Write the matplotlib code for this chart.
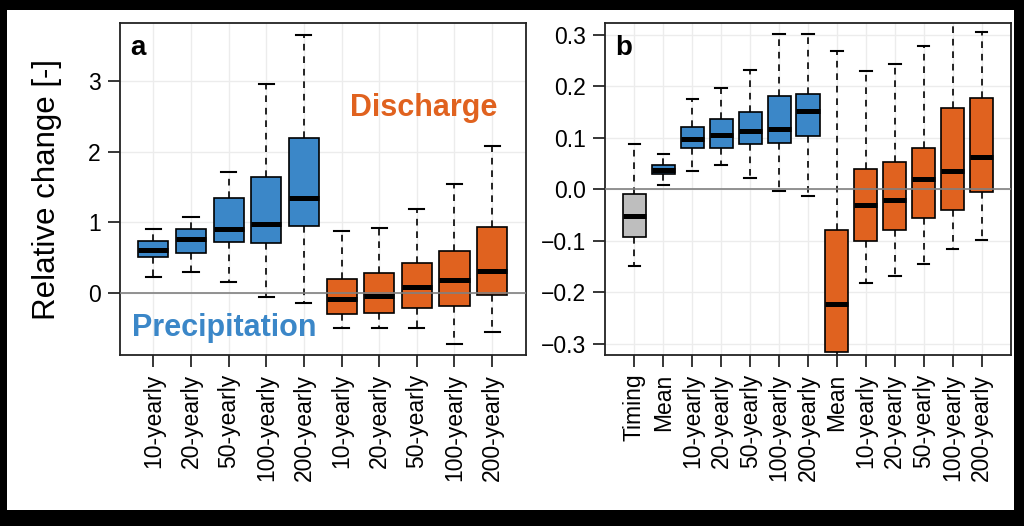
import matplotlib
matplotlib.use("Agg")
import matplotlib.pyplot as plt
from matplotlib.patches import Rectangle

plt.rcParams['font.family'] = ['Liberation Sans', 'DejaVu Sans']

# ---------------- data ----------------
labels_a = ["10-yearly", "20-yearly", "50-yearly", "100-yearly", "200-yearly",
            "10-yearly", "20-yearly", "50-yearly", "100-yearly", "200-yearly"]
whislo_a = [0.22, 0.30, 0.15, -0.06, -0.14, -0.50, -0.50, -0.50, -0.73, -0.56]
q1_a     = [0.51, 0.57, 0.72, 0.71, 0.95, -0.30, -0.28, -0.21, -0.19, -0.03]
med_a    = [0.61, 0.76, 0.90, 0.98, 1.35, -0.09, -0.05, 0.08, 0.18, 0.31]
q3_a     = [0.73, 0.91, 1.34, 1.64, 2.20, 0.20, 0.28, 0.43, 0.59, 0.93]
whishi_a = [0.91, 1.07, 1.71, 2.96, 3.66, 0.87, 0.92, 1.19, 1.54, 2.08]
groups_a = ["P"] * 5 + ["Q"] * 5

labels_b = ["Timing", "Mean", "10-yearly", "20-yearly", "50-yearly", "100-yearly",
            "200-yearly", "Mean", "10-yearly", "20-yearly", "50-yearly",
            "100-yearly", "200-yearly"]
whislo_b = [-0.149, 0.009, 0.036, 0.047, 0.021, -0.004, -0.013, -0.33, -0.182,
            -0.168, -0.146, -0.117, -0.099]
q1_b     = [-0.093, 0.029, 0.079, 0.079, 0.088, 0.089, 0.103, -0.316, -0.100,
            -0.079, -0.056, -0.040, -0.006]
med_b    = [-0.053, 0.037, 0.097, 0.105, 0.113, 0.116, 0.151, -0.223, -0.031,
            -0.022, 0.019, 0.036, 0.062]
q3_b     = [-0.010, 0.047, 0.120, 0.136, 0.150, 0.181, 0.185, -0.080, 0.040,
            0.053, 0.080, 0.157, 0.176]
whishi_b = [0.087, 0.068, 0.175, 0.196, 0.231, 0.301, 0.302, 0.268, 0.230,
            0.243, 0.278, 0.33, 0.305]
groups_b = ["T"] + ["P"] * 6 + ["Q"] * 6

# ---------------- style ----------------
colors = {"P": "#3b87c8", "Q": "#e0621f", "T": "#bebebe"}
TICK_FS = 16.5


def make_stats(lo, q1, med, q3, hi):
    return [dict(whislo=a, q1=b, med=c, q3=d, whishi=e, fliers=[])
            for a, b, c, d, e in zip(lo, q1, med, q3, hi)]


def draw_panel(ax, stats, groups, labels, ylim, yticks, yticklabels):
    n = len(stats)
    pos = list(range(1, n + 1))
    ax.set_xlim(0.5 - 0.04 * n, n + 0.5 + 0.04 * n)
    ax.set_ylim(*ylim)
    # grid
    for p in pos:
        ax.axvline(p, color="#ececec", lw=1.0, zorder=0)
    for t in yticks:
        ax.axhline(t, color="#ececec", lw=1.0, zorder=0)
    bp = ax.bxp(stats, positions=pos, widths=0.8, patch_artist=True,
                showfliers=False,
                boxprops=dict(edgecolor="black", linewidth=1.2),
                medianprops=dict(color="black", linewidth=3.6, solid_capstyle="butt"),
                whiskerprops=dict(color="black", linewidth=1.2, linestyle=(0, (4, 3.5))),
                capprops=dict(color="black", linewidth=1.5),
                capwidths=0.4, zorder=2)
    for box, g in zip(bp["boxes"], groups):
        box.set_facecolor(colors[g])
    ax.axhline(0, color="#808080", lw=1.2, zorder=5)
    ax.set_xticks(pos)
    ax.set_xticklabels(labels, rotation=90, fontsize=TICK_FS)
    ax.set_yticks(yticks)
    ax.set_yticklabels(yticklabels, fontsize=TICK_FS)
    ax.tick_params(axis="both", direction="out", length=8.5, width=1.1, pad=5, color="black")
    for s in ax.spines.values():
        s.set_linewidth(1.3)
        s.set_color("#222222")


fig = plt.figure(figsize=(10.24, 5.26), dpi=100, facecolor="black")
bg = Rectangle((7 / 1024, 16 / 526), 1007 / 1024, 500 / 526,
               transform=fig.transFigure, facecolor="white",
               edgecolor="none", zorder=-10)
fig.add_artist(bg)

ax_a = fig.add_axes([119.5 / 1024, 1 - 355 / 526, 406.5 / 1024, 331.7 / 526])
ax_b = fig.add_axes([605 / 1024, 1 - 355 / 526, 406 / 1024, 331.7 / 526])
for ax in (ax_a, ax_b):
    ax.set_zorder(1)
    ax.set_facecolor("white")

draw_panel(ax_a, make_stats(whislo_a, q1_a, med_a, q3_a, whishi_a), groups_a, labels_a,
           (-0.88, 3.82), [0, 1, 2, 3], ["0", "1", "2", "3"])
draw_panel(ax_b, make_stats(whislo_b, q1_b, med_b, q3_b, whishi_b), groups_b, labels_b,
           (-0.322, 0.322), [-0.3, -0.2, -0.1, 0.0, 0.1, 0.2, 0.3],
           ["\u22120.3", "\u22120.2", "\u22120.1", "0.0", "0.1", "0.2", "0.3"])

ax_a.set_ylabel("Relative change [-]", fontsize=22.5, labelpad=19)

ax_a.text(0.026, 0.904, "a", transform=ax_a.transAxes, fontsize=20, fontweight="bold",
          va="baseline", ha="left")
ax_b.text(0.025, 0.904, "b", transform=ax_b.transAxes, fontsize=20, fontweight="bold",
          va="baseline", ha="left")
ax_a.text(0.749, 0.745, "Discharge", transform=ax_a.transAxes, fontsize=22,
          fontweight="bold", color=colors["Q"], ha="center", va="center", zorder=6)
ax_a.text(0.257, 0.080, "Precipitation", transform=ax_a.transAxes, fontsize=22,
          fontweight="bold", color=colors["P"], ha="center", va="center", zorder=6)

fig.savefig("out.png", dpi=100, facecolor="black")
